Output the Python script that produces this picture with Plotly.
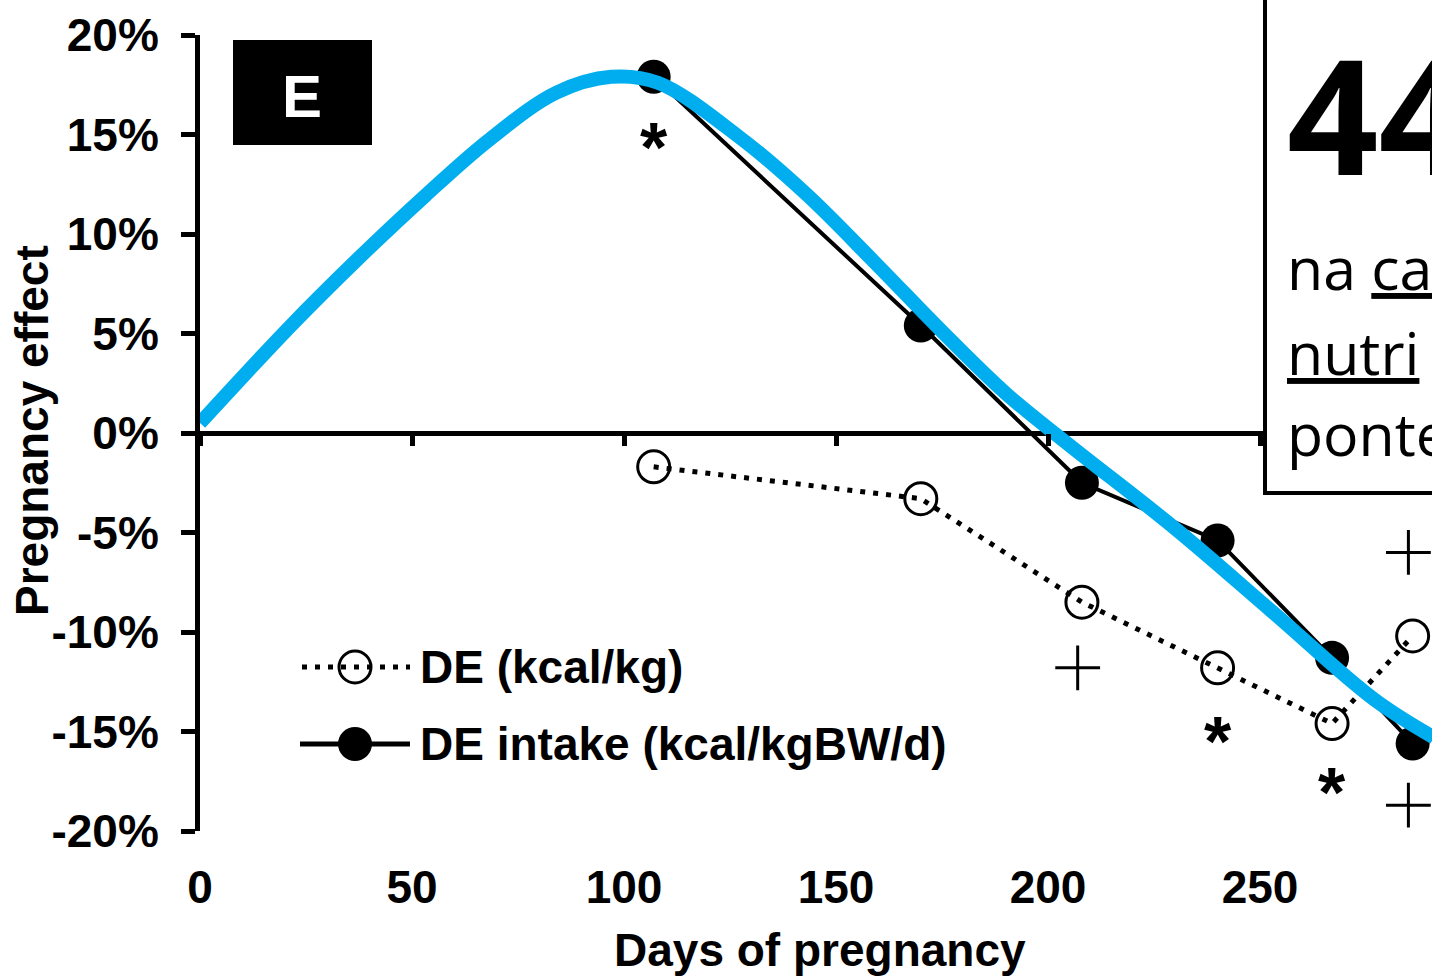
import plotly.graph_objects as go

# ---------------- data ----------------
days = [107, 170, 208, 240, 267, 286]
de_kcal_kg = [-1.7, -3.3, -8.5, -11.8, -14.6, -10.2]
de_intake = [17.9, 5.4, -2.5, -5.4, -11.3, -15.6]

fit_days = [0, 21, 37, 53, 68, 84, 97, 108, 127, 143, 159, 175, 190, 205, 230, 253, 277, 291]
fit_effect = [0.5, 5.3, 8.7, 11.9, 14.7, 17.1, 17.9, 17.6, 14.9, 12.0, 8.6, 5.1, 2.0, -0.6, -4.8, -9.0, -13.4, -15.3]

star_days = [107, 240, 267]
star_effect = [14.8, -15.0, -17.6]
plus_days = [207, 285, 285]
plus_effect = [-11.8, -6.0, -18.7]

x_ticks = [0, 50, 100, 150, 200, 250]
y_ticks = [-20, -15, -10, -5, 0, 5, 10, 15, 20]
y_tick_labels = [f"{v}%" for v in y_ticks]

legend_labels = ["DE (kcal/kg)", "DE intake (kcal/kgBW/d)"]
panel_label = "E"
x_title = "Days of pregnancy"
y_title = "Pregnancy effect"
box_number = "44"
box_lines = ["na <u>ca</u>", "<u>nutri</u>", "ponte"]

# ---------------- layout geometry ----------------
W, H = 1432, 977
L, T, B = 200, 35, 146
PW, PH = W - L, H - T - B


def px(x):
    return (x - L) / PW


def py(y):
    return (H - B - y) / PH


FONT = "Liberation Sans, Arial, sans-serif"
base_font = dict(family=FONT, size=46, color="black", weight="bold")

fig = go.Figure()

fig.add_trace(go.Scatter(
    x=days, y=de_kcal_kg, mode="lines+markers", name=legend_labels[0],
    line=dict(color="black", width=5, dash="5px,8px"),
    marker=dict(symbol="circle-open", size=32, color="black", line=dict(width=3)),
    cliponaxis=False, showlegend=False))

fig.add_trace(go.Scatter(
    x=days, y=de_intake, mode="lines+markers", name=legend_labels[1],
    line=dict(color="black", width=4),
    marker=dict(symbol="circle", size=34, color="black"),
    cliponaxis=False, showlegend=False))

fig.add_trace(go.Scatter(
    x=fit_days, y=fit_effect, mode="lines",
    line=dict(color="#00AEEF", width=14, shape="spline", smoothing=1.0),
    showlegend=False))

# significance crosses drawn on the overlaid zero-line axis (same range)
fig.add_trace(go.Scatter(
    x=plus_days, y=plus_effect, mode="markers", xaxis="x2", yaxis="y",
    marker=dict(symbol="cross-thin", size=32, color="black", line=dict(width=3, color="black")),
    cliponaxis=False, showlegend=False))

annotations = []
for d, e in zip(star_days, star_effect):
    annotations.append(dict(x=d, y=e, xref="x", yref="y", text="*", showarrow=False,
                            font=dict(family=FONT, size=70, color="black", weight="bold"), yshift=-10))

# axis titles
annotations.append(dict(x=px(820), y=py(950), xref="paper", yref="paper", text=x_title,
                        showarrow=False, font=base_font, xanchor="center", yanchor="middle"))
annotations.append(dict(x=px(32), y=py(431), xref="paper", yref="paper", text=y_title,
                        showarrow=False, font=base_font, textangle=-90, xanchor="center", yanchor="middle"))

# legend texts
annotations.append(dict(x=px(418), y=py(667), xref="paper", yref="paper", text=legend_labels[0],
                        showarrow=False, font=base_font, xanchor="left", yanchor="middle"))
annotations.append(dict(x=px(418), y=py(744), xref="paper", yref="paper", text=legend_labels[1],
                        showarrow=False, font=base_font, xanchor="left", yanchor="middle"))

# panel label
annotations.append(dict(x=px(302), y=py(97), xref="paper", yref="paper", text=panel_label,
                        showarrow=False, font=dict(family=FONT, size=60, color="white", weight="bold"),
                        xanchor="center", yanchor="middle"))

# overlay box text
annotations.append(dict(x=px(1285), y=py(113), xref="paper", yref="paper", text=box_number,
                        showarrow=False, font=dict(family="Open Sans", size=160, color="black", weight="bold"),
                        xanchor="left", yanchor="middle"))
for txt, yc in zip(box_lines, [267, 352, 433]):
    annotations.append(dict(x=px(1285), y=py(yc), xref="paper", yref="paper", text=txt,
                            showarrow=False, font=dict(family="Open Sans", size=59, color="black"),
                            xanchor="left", yanchor="middle"))

shapes = [
    # panel label box
    dict(type="rect", xref="paper", yref="paper", x0=px(233), x1=px(372), y0=py(145), y1=py(40),
         fillcolor="black", line=dict(width=0)),
    # legend samples
    dict(type="line", xref="paper", yref="paper", x0=px(302), x1=px(410), y0=py(667), y1=py(667),
         line=dict(color="black", width=5, dash="5px,8px")),
    dict(type="circle", xref="paper", yref="paper", x0=px(339), x1=px(371), y0=py(683), y1=py(651),
         line=dict(color="black", width=3), fillcolor="rgba(0,0,0,0)"),
    dict(type="line", xref="paper", yref="paper", x0=px(300), x1=px(410), y0=py(744), y1=py(744),
         line=dict(color="black", width=5)),
    dict(type="circle", xref="paper", yref="paper", x0=px(338), x1=px(372), y0=py(761), y1=py(727),
         line=dict(color="black", width=0), fillcolor="black"),
    # overlay box
    dict(type="rect", xref="paper", yref="paper", x0=px(1265), x1=px(1520), y0=py(493), y1=py(-20),
         fillcolor="white", line=dict(color="black", width=4), layer="above"),
]

x_range = [0, PW / 4.24]

fig.update_layout(
    width=W, height=H,
    margin=dict(l=L, r=0, t=T, b=B, pad=0),
    paper_bgcolor="white", plot_bgcolor="white",
    showlegend=False,
    xaxis=dict(range=x_range, tickvals=x_ticks, showline=False, ticks="", showgrid=False,
               zeroline=False, tickfont=base_font, ticklabelstandoff=25),
    xaxis2=dict(range=x_range, overlaying="x", anchor="free", position=0.5, tickvals=x_ticks,
                showline=False, ticks="outside", ticklen=12,
                tickwidth=5, tickcolor="black", showticklabels=False, showgrid=False, zeroline=False),
    yaxis=dict(range=[-20, 20], tickvals=y_ticks, ticktext=y_tick_labels,
               showline=True, linewidth=5, linecolor="black", ticks="outside", ticklen=14,
               tickwidth=5, tickcolor="black", showgrid=False, zeroline=True, zerolinewidth=5,
               zerolinecolor="black", tickfont=base_font, ticklabelstandoff=13),
    annotations=annotations,
    shapes=shapes,
)

fig.write_html("out.html")
